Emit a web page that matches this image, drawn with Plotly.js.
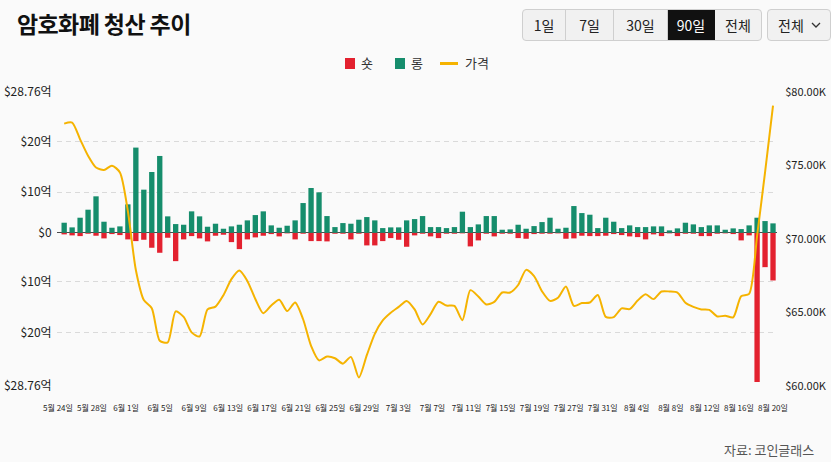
<!DOCTYPE html>
<html>
<head>
<meta charset="utf-8">
<script src="https://cdn.plot.ly/plotly-3.0.1.min.js"></script>
<style>
html,body{margin:0;padding:0;background:#fafafa;}
#wrap{position:relative;width:831px;height:462px;overflow:hidden;background:#fafafa;font-family:"Noto Sans CJK KR","Noto Sans",sans-serif;}
#chart{position:absolute;left:0;top:0;width:831px;height:462px;}
#title{position:absolute;left:17px;top:5px;font-size:23px;font-weight:700;color:#111;letter-spacing:-0.6px;line-height:36px;}
.btns{position:absolute;left:522px;top:9px;height:30px;display:flex;border:1px solid #cfcfcf;border-radius:4px;background:#f1f1f1;overflow:hidden;}
.btns div{height:30px;line-height:30px;text-align:center;font-size:14px;color:#222;border-right:1px solid #cfcfcf;box-sizing:border-box;}
.btns div:last-child{border-right:none;}
.btns div.on{background:#111;color:#fff;border-right-color:#111;}
.dd{position:absolute;left:767px;top:9px;width:62px;height:30px;border:1px solid #cfcfcf;border-radius:4px;background:#f1f1f1;font-size:14px;color:#222;line-height:30px;}
.dd span{position:absolute;left:10px;top:0;}
.dd svg{position:absolute;left:43px;top:12px;}
#legend{position:absolute;left:0;top:54px;width:831px;height:18px;font-size:13px;color:#333;}
#legend .sw{position:absolute;top:4px;width:10px;height:11px;}
#legend .ln{position:absolute;top:8px;width:18px;height:2.5px;background:#f5b300;}
#legend .tx{position:absolute;top:0;line-height:18px;}
#src{position:absolute;left:724px;top:440px;font-size:13px;color:#555;}
</style>
</head>
<body>
<div id="wrap">
  <div id="chart"></div>
  <div id="title">암호화폐 청산 추이</div>
  <div class="btns">
    <div style="width:43px">1일</div>
    <div style="width:48px">7일</div>
    <div style="width:54px">30일</div>
    <div class="on" style="width:47px">90일</div>
    <div style="width:46px">전체</div>
  </div>
  <div class="dd"><span>전체</span><svg width="10" height="7" viewBox="0 0 10 7"><polyline points="1,1 5,5 9,1" fill="none" stroke="#333" stroke-width="1.3"/></svg></div>
  <div id="legend">
    <div class="sw" style="left:345px;background:#e3212f"></div><div class="tx" style="left:361px">숏</div>
    <div class="sw" style="left:395px;background:#168d6c"></div><div class="tx" style="left:411px">롱</div>
    <div class="ln" style="left:440px"></div><div class="tx" style="left:465px">가격</div>
  </div>
  <div id="src">자료: 코인글래스</div>
</div>
<script>
// ---- data ----
const dates = [
 "5/24","5/25","5/26","5/27","5/28","5/29","5/30","5/31",
 "6/1","6/2","6/3","6/4","6/5","6/6","6/7","6/8","6/9","6/10","6/11","6/12","6/13","6/14","6/15","6/16","6/17","6/18","6/19","6/20","6/21","6/22","6/23","6/24","6/25","6/26","6/27","6/28","6/29","6/30",
 "7/1","7/2","7/3","7/4","7/5","7/6","7/7","7/8","7/9","7/10","7/11","7/12","7/13","7/14","7/15","7/16","7/17","7/18","7/19","7/20","7/21","7/22","7/23","7/24","7/25","7/26","7/27","7/28","7/29","7/30","7/31",
 "8/1","8/2","8/3","8/4","8/5","8/6","8/7","8/8","8/9","8/10","8/11","8/12","8/13","8/14","8/15","8/16","8/17","8/18","8/19","8/20","8/21"
];
// 롱 청산
const longLiq = [
 2.0,1.07,3.0,4.6,7.27,2.2,1.0,1.27,5.67,17.0,8.6,12.13,15.33,3.27,1.73,1.6,4.27,3.27,1.2,1.8,0.8,1.27,1.6,2.47,3.53,4.27,1.47,1.0,1.4,2.47,
 5.93,8.93,8.07,3.33,1.13,1.93,1.8,2.6,3.13,2.47,0.93,1.07,1.07,2.47,2.73,3.33,1.13,1.13,0.93,1.13,4.2,1.13,1.67,3.33,3.33,0.6,0.67,1.6,0.8,1.33,
 2.13,3.0,0.8,1.0,5.33,3.93,3.6,0.93,3.0,2.2,0.93,1.47,1.13,1.13,1.27,1.27,0.47,0.87,2.0,1.67,1.13,1.47,1.47,0.6,0.87,0.73,1.47,3.0,2.33,1.87
];
// 숏 청산 (크기)
const shortLiq = [
 0.33,0.53,0.67,0.2,0.6,1.13,0.27,0.47,1.33,1.67,1.4,3.0,4.0,1.0,5.67,1.33,0.67,1.13,1.73,0.6,0.4,1.87,3.27,1.33,0.93,0.6,0.27,0.73,0.13,1.33,
 0.2,1.67,1.67,1.73,0.2,0.2,1.33,0.2,2.53,2.53,1.67,1.07,1.4,2.8,0.53,0.2,0.73,1.07,0.2,0.2,0.13,2.73,1.53,0.2,0.73,0.2,0.2,1.07,1.2,0.27,
 0.2,0.2,0.13,1.2,1.13,0.6,0.67,0.67,0.6,0.27,0.47,0.73,0.87,1.33,0.33,0.67,0.13,0.67,0.2,0.2,0.67,0.67,0.2,0.13,0.27,1.53,0.53,29.8,6.87,9.53
];
// 가격 (K 달러)
const price = [
 77.85,77.92,76.78,75.66,74.86,74.70,74.99,74.53,71.89,67.89,65.85,65.29,63.08,62.96,65.08,64.70,63.65,63.37,65.21,65.40,66.18,67.27,67.86,67.15,65.92,64.95,65.48,65.87,65.10,65.68,
 64.54,62.73,61.74,62.00,61.89,61.52,61.98,60.58,62.10,63.55,64.46,64.98,65.38,65.79,65.21,64.19,64.89,65.73,65.47,65.45,64.48,66.52,66.09,65.55,65.72,66.36,66.36,66.87,67.90,67.48,
 66.44,65.79,66.00,66.77,65.45,65.64,65.68,66.19,64.70,64.69,65.28,65.23,65.81,66.24,65.91,66.43,66.43,66.36,65.66,65.38,65.21,65.18,64.73,64.78,64.67,66.11,66.27,70.22,74.54,79.08
];
const xTickText = ["5월 24일","5월 28일","6월 1일","6월 5일","6월 9일","6월 13일","6월 17일","6월 21일","6월 25일","6월 29일","7월 3일","7월 7일","7월 11일","7월 15일","7월 19일","7월 27일","7월 31일","8월 4일","8월 8일","8월 12일","8월 16일","8월 20일"];
const yTickText = ["$28.76억","$20억","$10억","$0","$10억","$20억","$28.76억"];
const y2TickVals = [60,65,70,75,80];
const y2TickText = ["$60.00K","$65.00K","$70.00K","$75.00K","$80.00K"];

// ---- positions only ----
const yTickVals = [28.1,18.2,8.1,0,-9.7,-20,-30.6];
const xTickVals = xTickText.map((t,k)=>(58 + 34.05*k - 64.2)/7.965);

const FONT = "'Noto Sans CJK KR','Noto Sans',sans-serif";

const traces = [
 {type:'bar', name:'숏', x:dates, y:shortLiq.map(v=>-v), marker:{color:'#e3212f'}, yaxis:'y', hoverinfo:'skip'},
 {type:'bar', name:'롱', x:dates, y:longLiq, marker:{color:'#168d6c'}, yaxis:'y', hoverinfo:'skip'},
 {type:'scatter', mode:'lines', name:'가격', x:dates, y:price, yaxis:'y2',
  line:{color:'#f5b300', width:2, shape:'spline', smoothing:0.7}, hoverinfo:'skip'}
];

const layout = {
 width:831, height:462,
 paper_bgcolor:'#fafafa', plot_bgcolor:'#fafafa',
 margin:{l:57, r:54, t:92, b:76, pad:0},
 barmode:'relative', bargap:0.33,
 font:{family:FONT, color:'#222', size:12},
 showlegend:false,
 xaxis:{type:'category', range:[-0.9,89.5], tickmode:'array', tickvals:xTickVals, ticktext:xTickText, tickangle:0,
   showgrid:false, zeroline:false, showline:false, ticks:'outside', ticklen:14, tickcolor:'rgba(0,0,0,0)',
   tickfont:{size:8, family:FONT, color:'#222'}, fixedrange:true},
 yaxis:{range:[-30.6,28.1], tickmode:'array', tickvals:yTickVals, ticktext:yTickText,
   showgrid:true, gridcolor:'#dadada', griddash:'5px,4px', gridwidth:1,
   zeroline:true, zerolinecolor:'#4a4a4a', zerolinewidth:1, showline:false,
   ticks:'outside', ticklen:2, tickcolor:'rgba(0,0,0,0)', tickfont:{size:12, family:FONT, color:'#222'}, fixedrange:true},
 yaxis2:{overlaying:'y', side:'right', range:[60,80], tickmode:'array', tickvals:y2TickVals, ticktext:y2TickText,
   showgrid:false, zeroline:false, showline:false,
   ticks:'outside', ticklen:5, tickcolor:'rgba(0,0,0,0)', tickfont:{size:11, family:FONT, color:'#222'}, fixedrange:true}
};

Plotly.newPlot('chart', traces, layout, {displayModeBar:false, staticPlot:true});
</script>
</body>
</html>
